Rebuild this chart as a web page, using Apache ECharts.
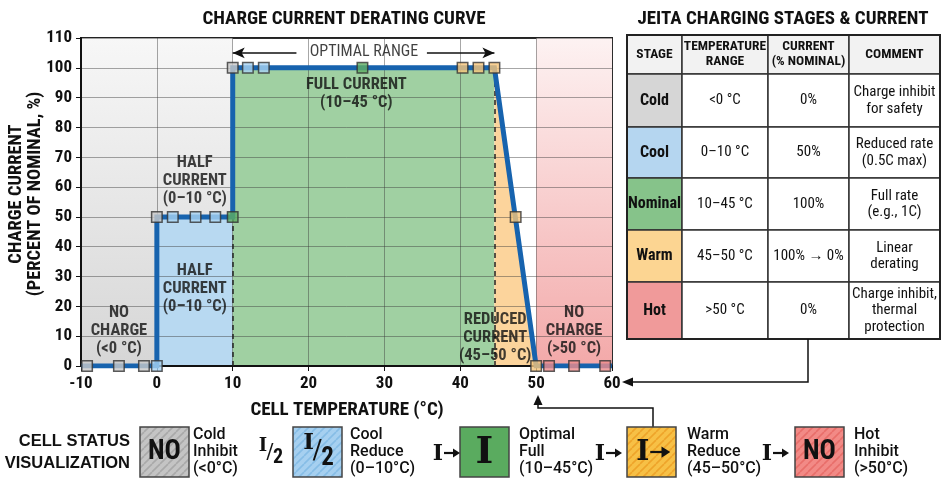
<!DOCTYPE html>
<html><head><meta charset="utf-8">
<script src="https://cdn.jsdelivr.net/npm/echarts@6/dist/echarts.min.js"></script>
<style>html,body{margin:0;padding:0;background:#fff}#c{width:950px;height:482px}</style>
</head><body><div id="c"></div>
<script>
// ---------- data ----------
const curveT = [-10, 0, 0, 10, 10, 44.5, 50, 60];
const curveI = [0, 0, 50, 50, 100, 100, 0, 0];
const markerT = [-9.2, -5, -1.7, 0, 0, 2.1, 5.1, 7.7, 10, 10, 12, 14.1, 27.1, 40.3, 42.4, 44.5, 47.3, 50, 51.7, 55, 59.1];
const markerI = [0, 0, 0, 0, 50, 50, 50, 50, 50, 100, 100, 100, 100, 100, 100, 100, 50, 0, 0, 0, 0];
const markerStage = ['Cold','Cold','Cold','Cool','Cold','Cool','Cool','Cool','Nominal','Cold','Cool','Cool','Nominal','Warm','Warm','Warm','Warm','Warm','Hot','Hot','Hot'];
const zoneLabels = ['NO\nCHARGE\n(<0 °C)', 'HALF\nCURRENT\n(0–10 °C)', 'HALF\nCURRENT\n(0–10 °C)', 'FULL CURRENT\n(10–45 °C)', 'REDUCED\nCURRENT\n(45–50 °C)', 'NO\nCHARGE\n(>50 °C)'];
const zoneLabelT = [-5, 5, 5, 26.3, 44.6, 55];
const zoneLabelI = [11.7, 25.8, 62, 91.3, 9.4, 11.7];
const optimalRange = [10, 44.5];
const optimalLabel = 'OPTIMAL RANGE';
const tableHeader = ['STAGE', 'TEMPERATURE\nRANGE', 'CURRENT\n(% NOMINAL)', 'COMMENT'];
const stages = ['Cold', 'Cool', 'Nominal', 'Warm', 'Hot'];
const stageRange = ['<0 °C', '0–10 °C', '10–45 °C', '45–50 °C', '>50 °C'];
const stageCurrent = ['0%', '50%', '100%', '100% → 0%', '0%'];
const stageComment = ['Charge inhibit\nfor safety', 'Reduced rate\n(0.5C max)', 'Full rate\n(e.g., 1C)', 'Linear\nderating', 'Charge inhibit,\nthermal\nprotection'];
const statusIcon = ['NO', 'I/2', 'I', 'I→', 'NO'];
const transitionIcon = [null, 'I/2', 'I→', 'I→', 'I→'];
const statusText = ['Cold\nInhibit\n(<0°C)', 'Cool\nReduce\n(0–10°C)', 'Optimal\nFull\n(10–45°C)', 'Warm\nReduce\n(45–50°C)', 'Hot\nInhibit\n(>50°C)'];

// ---------- style ----------
const NF = "'Liberation Sans Narrow','Roboto Condensed','Liberation Sans',Arial,sans-serif";
const WF = "'Liberation Sans',Arial,sans-serif";
const SF = "'DejaVu Serif','Liberation Serif',serif";
const markerColor = {Cold:'#c9c9c9', Cool:'#a9d3f2', Nominal:'#5fae63', Warm:'#f8c67a', Hot:'#ef8c8c'};
const cellColor = {Cold:'#d6d6d6', Cool:'#b5d6f0', Nominal:'#86c38a', Warm:'#fcd592', Hot:'#f09a9a'};
const boxColor = [['#c4c4c4','#a9a9a9'], ['#a6d0f0','#86bde6'], ['#5aab5f', null], ['#f7c046','#eea42a'], ['#f28a86','#e86e6a']];

function stripe(base, line) {
  const c = document.createElement('canvas');
  c.width = 8; c.height = 8;
  const g = c.getContext('2d');
  g.fillStyle = base; g.fillRect(0, 0, 8, 8);
  if (line) {
    g.strokeStyle = line; g.lineWidth = 1.6;
    for (const o of [-8, 0, 8]) { g.beginPath(); g.moveTo(o, 8); g.lineTo(o + 8, 0); g.stroke(); }
  }
  return c;
}

const chart = echarts.init(document.getElementById('c'));
const pts = curveT.map((t, i) => [t, curveI[i]]);
const solidArrow = { type: 'solid', width: 1.5, color: '#111' };

const series = [
  { type: 'line', data: [], z: 1, silent: true,
    markArea: { silent: true, data: [
      [{ coord: [-10, 0], itemStyle: { color: { type: 'linear', x: 0, y: 0, x2: 0, y2: 1, colorStops: [{offset: 0, color: '#f7f7f7'}, {offset: 1, color: '#d6d6d6'}] } } }, { coord: [10, 110] }],
      [{ coord: [50, 0], itemStyle: { color: { type: 'linear', x: 0, y: 0, x2: 0, y2: 1, colorStops: [{offset: 0, color: '#fdf2f2'}, {offset: 1, color: '#f3a9a9'}] } } }, { coord: [60, 110] }]
    ] } },
  { type: 'line', data: pts.slice(2, 4), symbol: 'none', lineStyle: { width: 0 }, areaStyle: { color: '#b8d9f1', opacity: 1 }, z: 2, silent: true },
  { type: 'line', data: pts.slice(4, 6), symbol: 'none', lineStyle: { width: 0 }, areaStyle: { color: '#a0d0a2', opacity: 1 }, z: 2, silent: true },
  { type: 'line', data: pts.slice(5, 7), symbol: 'none', lineStyle: { width: 0 }, areaStyle: { color: '#fcd49c', opacity: 1 }, z: 2, silent: true },
  { type: 'line', data: pts, symbol: 'none', z: 6, lineStyle: { color: '#1763ae', width: 5, join: 'miter' },
    markLine: { silent: true, symbol: 'none', label: { show: false }, lineStyle: { color: '#222', type: [5, 4], width: 1.5 },
      data: [
        [{ coord: [curveT[3], 0] }, { coord: [curveT[3], curveI[3]] }],
        [{ coord: [curveT[5], 0] }, { coord: [curveT[5], curveI[5]] }],
        [{ coord: [optimalRange[0], 105], symbol: 'arrow', symbolSize: [8, 12], lineStyle: solidArrow }, { coord: [18.4, 105], symbol: 'none' }],
        [{ coord: [35.6, 105], symbol: 'none', lineStyle: solidArrow }, { coord: [optimalRange[1], 105], symbol: 'arrow', symbolSize: [8, 12] }]
      ] } },
  { type: 'scatter', z: 10, symbol: 'rect', symbolSize: 10.5,
    data: markerT.map((t, i) => ({ value: [t, markerI[i]], itemStyle: { color: markerColor[markerStage[i]], borderColor: '#333', borderWidth: 1.5 } })) },
  { type: 'scatter', z: 9, symbolSize: 0, silent: true,
    data: zoneLabelT.map((t, i) => ({ value: [t, zoneLabelI[i]], label: { formatter: zoneLabels[i] } })).concat([{ value: [(optimalRange[0] + optimalRange[1]) / 2 + 0.05, 105.3], label: { formatter: optimalLabel, fontWeight: 'normal', fontSize: 16 } }]),
    label: { show: true, position: 'inside', fontFamily: NF, fontWeight: 'bold', fontSize: 16.5, lineHeight: 18, color: '#111' } }
];

const g = [];
// titles
g.push({ type: 'text', style: { text: 'CHARGE CURRENT DERATING CURVE', x: 344, y: 19, align: 'center', verticalAlign: 'middle', font: 'bold 19px ' + NF, fill: '#111' } });
g.push({ type: 'text', style: { text: 'JEITA CHARGING STAGES & CURRENT', x: 783, y: 19, align: 'center', verticalAlign: 'middle', font: 'bold 19px ' + NF, fill: '#111' } });
// axis names
g.push({ type: 'text', x: 26, y: 194, rotation: Math.PI / 2, style: { text: 'CHARGE CURRENT\n(PERCENT OF NOMINAL, %)', x: 0, y: 0, align: 'center', verticalAlign: 'middle', font: 'bold 18.5px ' + NF, lineHeight: 19, fill: '#111' } });
g.push({ type: 'text', style: { text: 'CELL TEMPERATURE (°C)', x: 347, y: 410, align: 'center', verticalAlign: 'middle', font: 'bold 19px ' + NF, fill: '#111' } });

// table
const colX = [627, 682, 768, 849, 940];
const rowY = [35, 74, 127, 178, 230, 282, 339];
for (let c = 0; c < 4; c++) {
  g.push({ type: 'rect', shape: { x: colX[c], y: rowY[0], width: colX[c + 1] - colX[c], height: rowY[1] - rowY[0] }, style: { fill: '#f2f2f2', stroke: '#333', lineWidth: 1.5 } });
  g.push({ type: 'text', style: { text: tableHeader[c], x: (colX[c] + colX[c + 1]) / 2, y: (rowY[0] + rowY[1]) / 2, align: 'center', verticalAlign: 'middle', font: 'bold 13.5px ' + NF, lineHeight: 15, fill: '#111' } });
}
stages.forEach((s, r) => {
  const vals = [s, stageRange[r], stageCurrent[r], stageComment[r]];
  for (let c = 0; c < 4; c++) {
    g.push({ type: 'rect', shape: { x: colX[c], y: rowY[r + 1], width: colX[c + 1] - colX[c], height: rowY[r + 2] - rowY[r + 1] }, style: { fill: c === 0 ? cellColor[s] : '#fff', stroke: '#333', lineWidth: 1.5 } });
    g.push({ type: 'text', style: { text: vals[c], x: (colX[c] + colX[c + 1]) / 2, y: (rowY[r + 1] + rowY[r + 2]) / 2, align: 'center', verticalAlign: 'middle', font: (c === 0 ? 'bold 16px ' : '15px ') + NF, lineHeight: 16.5, fill: '#111' } });
  }
});
g.push({ type: 'rect', shape: { x: colX[0], y: rowY[0], width: colX[4] - colX[0], height: rowY[6] - rowY[0] }, style: { fill: 'none', stroke: '#222', lineWidth: 2 } });

// connectors
g.push({ type: 'polyline', shape: { points: [[808, 339], [808, 382], [630, 382]] }, style: { stroke: '#111', lineWidth: 1.5, fill: 'none' } });
g.push({ type: 'polygon', shape: { points: [[622, 382], [633, 377.5], [633, 386.5]] }, style: { fill: '#111' } });
g.push({ type: 'polyline', shape: { points: [[653, 427], [653, 408], [538, 408], [538, 402]] }, style: { stroke: '#111', lineWidth: 1.5, fill: 'none' } });
g.push({ type: 'polygon', shape: { points: [[538, 395], [533.5, 405], [542.5, 405]] }, style: { fill: '#111' } });

// legend row
g.push({ type: 'text', style: { text: 'CELL STATUS\nVISUALIZATION', x: 130, y: 452, align: 'right', verticalAlign: 'middle', font: 'bold 16.5px ' + WF, lineHeight: 22, fill: '#111' } });
const boxX = [140, 293, 460, 627, 795];
const txtX = [193, 350, 519, 687, 854];
const sepX = [null, 258, 433, 595, 762];
function drawIcon(kind, x, y, big) {
  const s = big ? 1.25 : 1;
  if (kind === 'NO') {
    g.push({ type: 'text', z: 20, style: { text: 'NO', x: x, y: y, align: 'center', verticalAlign: 'middle', font: 'bold 27px ' + NF, fill: '#111' } });
  } else if (kind === 'I') {
    g.push({ type: 'text', z: 20, style: { text: 'I', x: x, y: y + 1, align: 'center', verticalAlign: 'middle', font: 'bold 38px ' + SF, fill: '#111' } });
  } else if (kind === 'I/2') {
    g.push({ type: 'text', z: 20, style: { text: 'I', x: x - 7 * s, y: y - 7 * s, align: 'center', verticalAlign: 'middle', font: 'bold ' + Math.round(18 * s) + 'px ' + SF, fill: '#111' } });
    g.push({ type: 'text', z: 20, style: { text: '/', x: x, y: y, align: 'center', verticalAlign: 'middle', font: Math.round(22 * s) + 'px ' + NF, fill: '#111' } });
    g.push({ type: 'text', z: 20, style: { text: '2', x: x + 8 * s, y: y + 5 * s, align: 'center', verticalAlign: 'middle', font: 'bold ' + Math.round(20 * s) + 'px ' + NF, fill: '#111' } });
  } else if (kind === 'I→') {
    g.push({ type: 'text', z: 20, style: { text: 'I', x: x - 7 * s, y: y + 1, align: 'center', verticalAlign: 'middle', font: 'bold ' + Math.round(22 * s) + 'px ' + SF, fill: '#111' } });
    g.push({ type: 'line', z: 20, shape: { x1: x - 1 * s, y1: y, x2: x + 10 * s, y2: y }, style: { stroke: '#111', lineWidth: 2.2 } });
    g.push({ type: 'polygon', z: 20, shape: { points: [[x + 15 * s, y], [x + 8 * s, y - 4.5 * s], [x + 8 * s, y + 4.5 * s]] }, style: { fill: '#111' } });
  }
}
statusIcon.forEach((ic, i) => {
  const bc = boxColor[i];
  g.push({ type: 'rect', z: 10, shape: { x: boxX[i], y: 427, width: 49, height: 50 }, style: { fill: { image: stripe(bc[0], bc[1]), repeat: 'repeat' }, stroke: '#444', lineWidth: 1.5 } });
  drawIcon(ic, boxX[i] + 24.5, 452, true);
  g.push({ type: 'text', style: { text: statusText[i], x: txtX[i], y: 452, align: 'left', verticalAlign: 'middle', font: '500 16px Roboto,' + NF, lineHeight: 17, fill: '#111' } });
  if (transitionIcon[i]) drawIcon(transitionIcon[i], sepX[i] + 12, 453, false);
});

chart.setOption({
  animation: false,
  backgroundColor: '#fff',
  grid: { left: 81, top: 38, width: 531, height: 328, show: true, borderColor: '#222', borderWidth: 2, backgroundColor: 'transparent' },
  xAxis: { type: 'value', min: -10, max: 60, interval: 10, z: 4,
    axisLine: { show: true, onZero: false, lineStyle: { color: '#111', width: 2 } },
    axisTick: { show: true, length: 5, lineStyle: { color: '#111' } },
    splitLine: { show: true, lineStyle: { color: 'rgba(60,60,60,0.45)', width: 1 } },
    axisLabel: { fontFamily: NF, fontWeight: 'bold', fontSize: 17, color: '#111', margin: 9 } },
  yAxis: { type: 'value', min: 0, max: 110, interval: 10, z: 4,
    axisLine: { show: true, onZero: false, lineStyle: { color: '#111', width: 2 } },
    axisTick: { show: true, length: 5, lineStyle: { color: '#111' } },
    splitLine: { show: true, lineStyle: { color: 'rgba(60,60,60,0.45)', width: 1 } },
    axisLabel: { fontFamily: NF, fontWeight: 'bold', fontSize: 17, color: '#111', margin: 9 } },
  series: series,
  graphic: g
});
</script></body></html>
